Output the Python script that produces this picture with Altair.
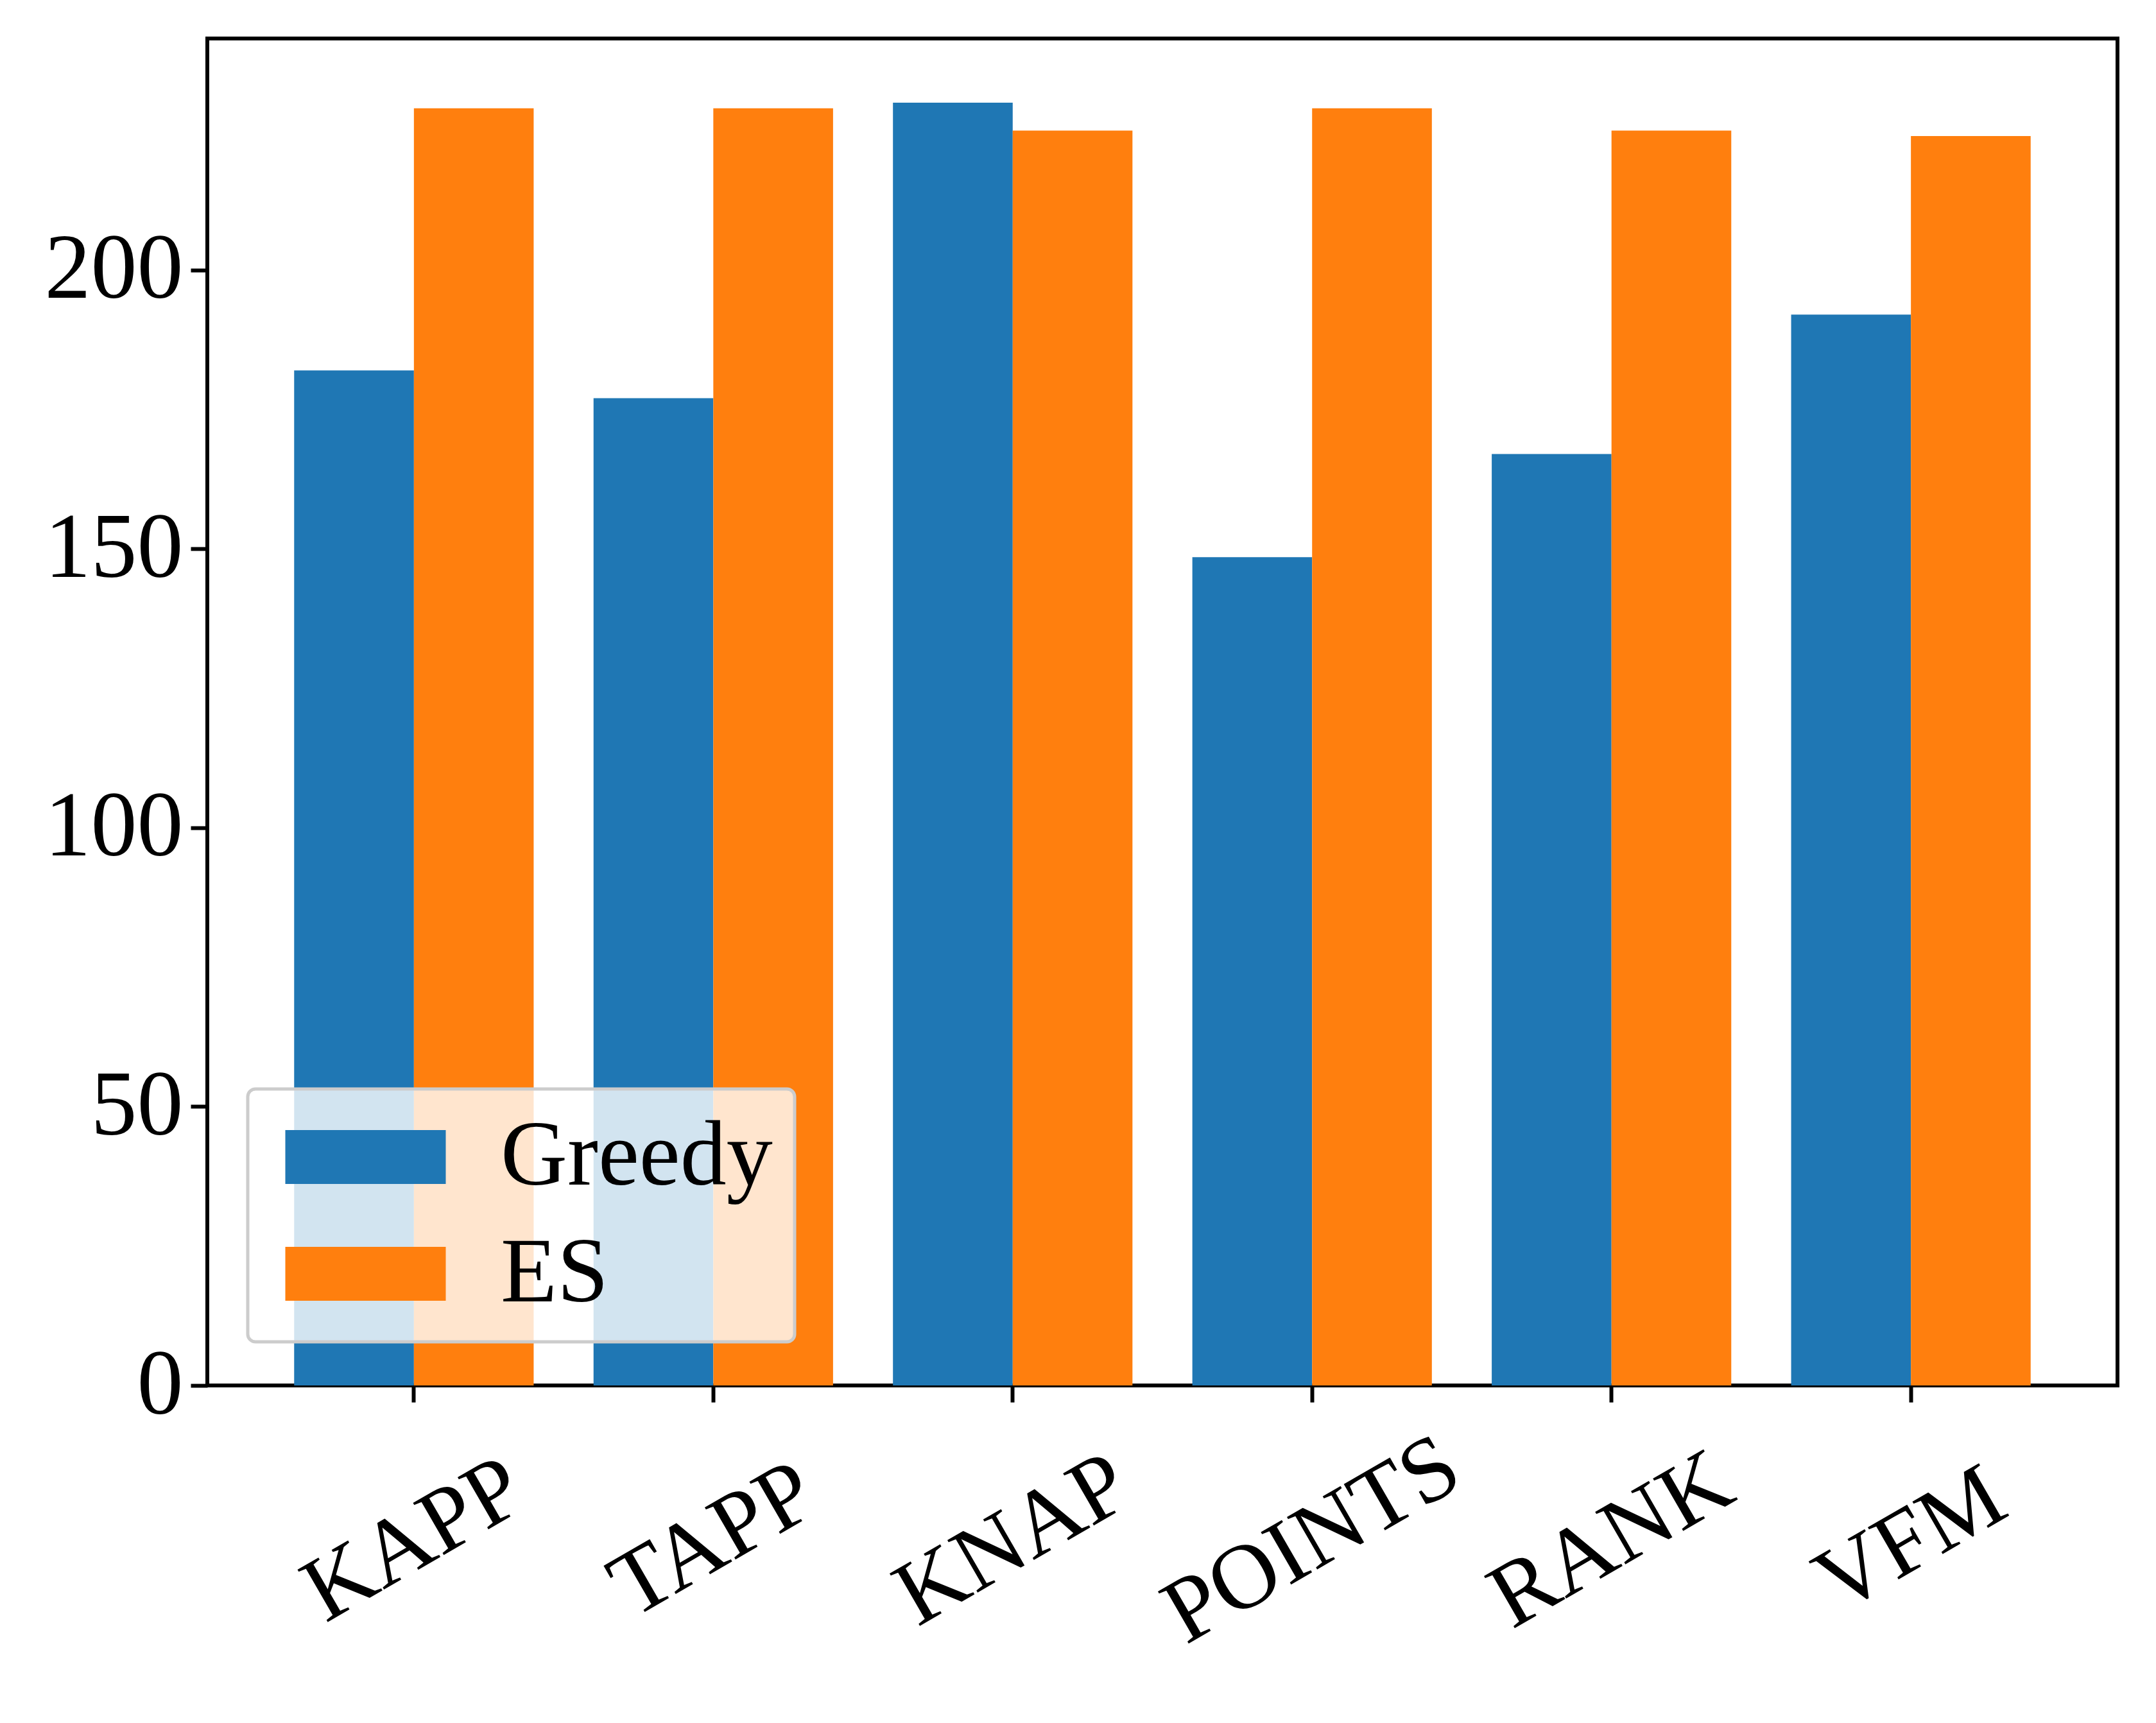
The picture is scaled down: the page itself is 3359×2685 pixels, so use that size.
import altair as alt
import pandas as pd

categories = ["KAPP", "TAPP", "KNAP", "POINTS", "RANK", "VFM"]
series_names = ["Greedy", "ES"]
greedy_values = [182, 177, 230, 148.5, 167, 192]
es_values = [229, 229, 225, 229, 225, 224]
y_ticks = [0, 50, 100, 150, 200]
colors = ["#1f77b4", "#ff7f0e"]

rows = []
for c, g, e in zip(categories, greedy_values, es_values):
    rows.append({"category": c, "series": "Greedy", "value": g})
    rows.append({"category": c, "series": "ES", "value": e})
df = pd.DataFrame(rows)

FONT = "Liberation Serif"
FS = 144

chart = (
    alt.Chart(df)
    .mark_bar()
    .encode(
        x=alt.X(
            "category:N",
            sort=categories,
            scale=alt.Scale(paddingInner=0.2, paddingOuter=0.29),
            axis=alt.Axis(
                title=None,
                labelAngle=-30,
                labelAlign="center",
                labelBaseline="middle",
                labelPadding=215,
                labelFont=FONT,
                labelFontSize=FS,
                labelColor="black",
                labelOverlap=False,
                labelLimit=2000,
                tickSize=26,
                tickWidth=6,
                tickColor="black",
                domain=False,
            ),
        ),
        xOffset=alt.XOffset(
            "series:N", sort=series_names, scale=alt.Scale(paddingInner=0, paddingOuter=0)
        ),
        y=alt.Y(
            "value:Q",
            scale=alt.Scale(domain=[0, 241.5], nice=False, zero=True),
            axis=alt.Axis(
                title=None,
                values=y_ticks,
                grid=False,
                labelFont=FONT,
                labelFontSize=FS,
                labelColor="black",
                labelPadding=12,
                labelLimit=2000,
                tickSize=26,
                tickWidth=6,
                tickColor="black",
                domain=False,
                minExtent=300,
                maxExtent=300,
                labelFlush=False,
            ),
        ),
        color=alt.Color(
            "series:N",
            sort=series_names,
            scale=alt.Scale(domain=series_names, range=colors),
            legend=alt.Legend(
                title=None,
                orient="none",
                legendX=63,
                legendY=1637,
                symbolType="M-0.76,-0.672H3.24V0.672H-0.76Z",
                symbolSize=15625,
                symbolStrokeWidth=0,
                labelFont=FONT,
                labelFontSize=FS,
                labelColor="black",
                labelOffset=216,
                rowPadding=38,
                padding=34,
                fillColor="rgba(255,255,255,0.8)",
                strokeColor="#cccccc",
                cornerRadius=12,
                labelLimit=2000,
            ),
        ),
    )
    .properties(
        width=2976,
        height=2099,
        padding={"left": 15, "top": 52, "right": 52, "bottom": 20},
    )
    .configure_view(stroke="black", strokeWidth=6)
    .configure_legend(strokeWidth=5)
)

chart.save("out.html", embed_options={"renderer": "svg", "actions": False})
